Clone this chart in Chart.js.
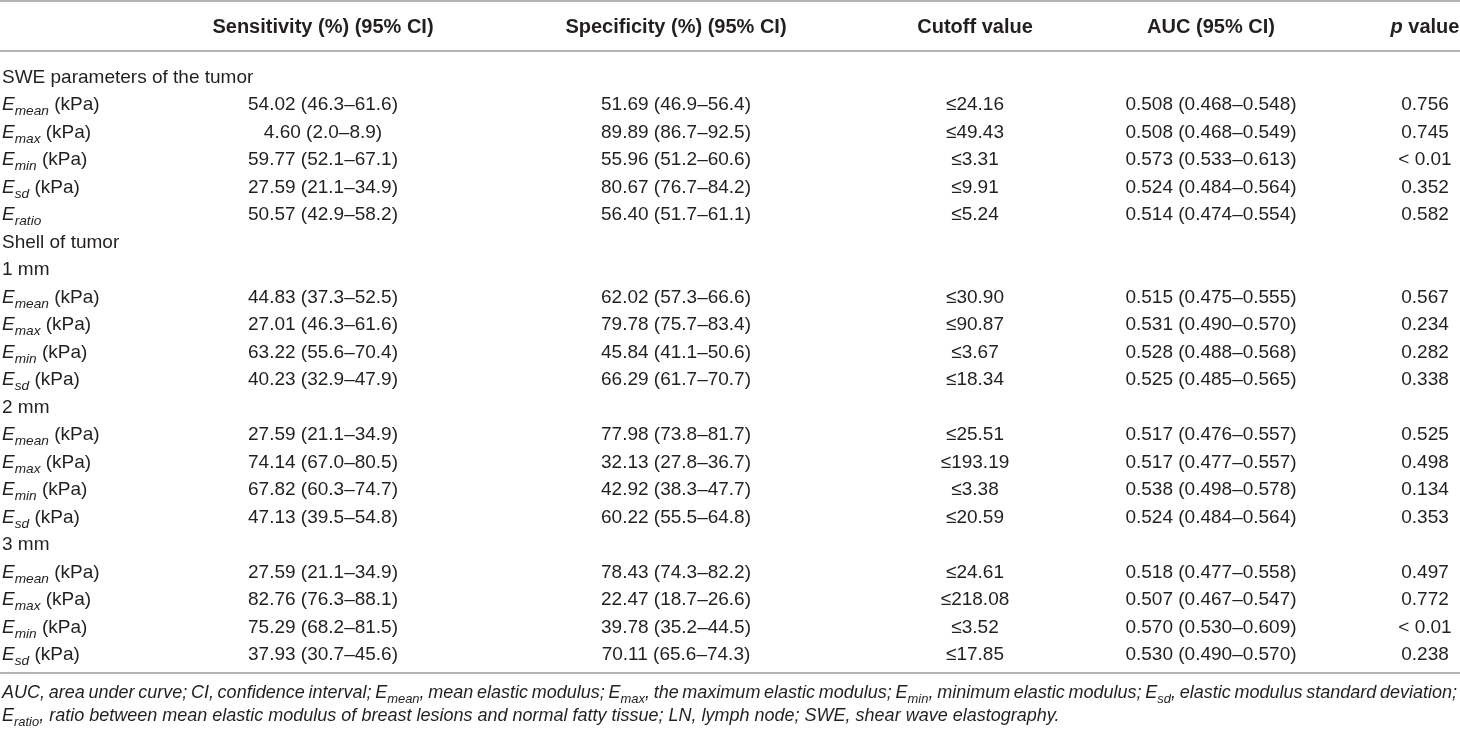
<!DOCTYPE html>
<html>
<head>
<meta charset="utf-8">
<script src="https://cdn.jsdelivr.net/npm/chart.js@4/dist/chart.umd.min.js"></script>
<style>
  html, body { margin: 0; padding: 0; background: #ffffff; }
  #wrap { width: 1460px; height: 733px; position: relative; }
</style>
</head>
<body>
<div id="wrap"><canvas id="c"></canvas></div>
<script>
// ---------- DATA ----------
const rowLabels = [
  'SWE parameters of the tumor',
  'E_{mean} (kPa)', 'E_{max} (kPa)', 'E_{min} (kPa)', 'E_{sd} (kPa)', 'E_{ratio}',
  'Shell of tumor',
  '1 mm',
  'E_{mean} (kPa)', 'E_{max} (kPa)', 'E_{min} (kPa)', 'E_{sd} (kPa)',
  '2 mm',
  'E_{mean} (kPa)', 'E_{max} (kPa)', 'E_{min} (kPa)', 'E_{sd} (kPa)',
  '3 mm',
  'E_{mean} (kPa)', 'E_{max} (kPa)', 'E_{min} (kPa)', 'E_{sd} (kPa)'
];
const columnHeaders = ['', 'Sensitivity (%) (95% CI)', 'Specificity (%) (95% CI)', 'Cutoff value', 'AUC (95% CI)', '*p* value'];
const sensitivity = ['', '54.02 (46.3–61.6)', '4.60 (2.0–8.9)', '59.77 (52.1–67.1)', '27.59 (21.1–34.9)', '50.57 (42.9–58.2)', '', '',
  '44.83 (37.3–52.5)', '27.01 (46.3–61.6)', '63.22 (55.6–70.4)', '40.23 (32.9–47.9)', '',
  '27.59 (21.1–34.9)', '74.14 (67.0–80.5)', '67.82 (60.3–74.7)', '47.13 (39.5–54.8)', '',
  '27.59 (21.1–34.9)', '82.76 (76.3–88.1)', '75.29 (68.2–81.5)', '37.93 (30.7–45.6)'];
const specificity = ['', '51.69 (46.9–56.4)', '89.89 (86.7–92.5)', '55.96 (51.2–60.6)', '80.67 (76.7–84.2)', '56.40 (51.7–61.1)', '', '',
  '62.02 (57.3–66.6)', '79.78 (75.7–83.4)', '45.84 (41.1–50.6)', '66.29 (61.7–70.7)', '',
  '77.98 (73.8–81.7)', '32.13 (27.8–36.7)', '42.92 (38.3–47.7)', '60.22 (55.5–64.8)', '',
  '78.43 (74.3–82.2)', '22.47 (18.7–26.6)', '39.78 (35.2–44.5)', '70.11 (65.6–74.3)'];
const cutoffValue = ['', '≤24.16', '≤49.43', '≤3.31', '≤9.91', '≤5.24', '', '',
  '≤30.90', '≤90.87', '≤3.67', '≤18.34', '',
  '≤25.51', '≤193.19', '≤3.38', '≤20.59', '',
  '≤24.61', '≤218.08', '≤3.52', '≤17.85'];
const aucValue = ['', '0.508 (0.468–0.548)', '0.508 (0.468–0.549)', '0.573 (0.533–0.613)', '0.524 (0.484–0.564)', '0.514 (0.474–0.554)', '', '',
  '0.515 (0.475–0.555)', '0.531 (0.490–0.570)', '0.528 (0.488–0.568)', '0.525 (0.485–0.565)', '',
  '0.517 (0.476–0.557)', '0.517 (0.477–0.557)', '0.538 (0.498–0.578)', '0.524 (0.484–0.564)', '',
  '0.518 (0.477–0.558)', '0.507 (0.467–0.547)', '0.570 (0.530–0.609)', '0.530 (0.490–0.570)'];
const pValue = ['', '0.756', '0.745', '< 0.01', '0.352', '0.582', '', '',
  '0.567', '0.234', '0.282', '0.338', '',
  '0.525', '0.498', '0.134', '0.353', '',
  '0.497', '0.772', '< 0.01', '0.238'];
const footnoteLines = [
  'AUC, area under curve; CI, confidence interval; E_{mean}, mean elastic modulus; E_{max}, the maximum elastic modulus; E_{min}, minimum elastic modulus; E_{sd}, elastic modulus standard deviation;',
  'E_{ratio}, ratio between mean elastic modulus of breast lesions and normal fatty tissue; LN, lymph node; SWE, shear wave elastography.'
];

// ---------- LAYOUT / STYLE ----------
const FONT = '"Liberation Sans", Arial, Helvetica, sans-serif';
const TEXT_COLOR = '#231f20';
const RULE_COLOR = '#9d9d9d';
const BODY_SIZE = 19;
const HEAD_SIZE = 20;
const FOOT_SIZE = 18;
const columnX = [2, 323, 676, 975, 1211, 1425];   // label column left edge, then column centres
const columnAlign = ['left', 'center', 'center', 'center', 'center', 'center'];
const columnTexts = [rowLabels, sensitivity, specificity, cutoffValue, aucValue, pValue];

// ---------- rich text helpers ----------
function parseRich(str) {
  const segs = [];
  const re = /\*([^*]+)\*|([A-Za-z])_\{([^}]*)\}/g;
  let last = 0, m;
  while ((m = re.exec(str)) !== null) {
    if (m.index > last) segs.push({ t: str.slice(last, m.index), it: false, sub: false });
    if (m[1] !== undefined) segs.push({ t: m[1], it: true, sub: false });
    else { segs.push({ t: m[2], it: true, sub: false }); segs.push({ t: m[3], it: true, sub: true }); }
    last = re.lastIndex;
  }
  if (last < str.length) segs.push({ t: str.slice(last), it: false, sub: false });
  return segs;
}
function segFont(seg, size, weight, allItalic) {
  const s = seg.sub ? size * 0.72 : size;
  return ((seg.it || allItalic) ? 'italic ' : '') + weight + ' ' + s + 'px ' + FONT;
}
function measureRich(ctx, segs, size, weight, allItalic) {
  let w = 0;
  segs.forEach(seg => { ctx.font = segFont(seg, size, weight, allItalic); w += ctx.measureText(seg.t).width; });
  return w;
}
function drawRich(ctx, segs, x, capCenterY, size, weight, allItalic) {
  const base = capCenterY + size * 0.358;
  let cx = x;
  segs.forEach(seg => {
    ctx.font = segFont(seg, size, weight, allItalic);
    ctx.fillText(seg.t, cx, seg.sub ? base + size * 0.27 : base);
    cx += ctx.measureText(seg.t).width;
  });
  return cx;
}
function drawAligned(ctx, str, x, y, align, size, weight, allItalic) {
  const segs = parseRich(str);
  let left = x;
  if (align === 'center') left = x - measureRich(ctx, segs, size, weight, allItalic) / 2;
  drawRich(ctx, segs, left, y, size, weight, allItalic);
}

// ---------- table plugin ----------
const tablePlugin = {
  id: 'tablePlugin',
  afterDatasetsDraw(chart) {
    const ctx = chart.ctx;
    const area = chart.chartArea;
    const xs = chart.scales.x;
    ctx.save();
    ctx.fillStyle = TEXT_COLOR;
    ctx.textAlign = 'left';
    ctx.textBaseline = 'alphabetic';

    // rules
    ctx.strokeStyle = RULE_COLOR;
    ctx.lineWidth = 1.6;
    const x0 = xs.getPixelForValue(0), x1 = xs.getPixelForValue(1460);
    [area.top - 61, area.top - 11, area.bottom + 6].forEach(yy => {
      ctx.beginPath(); ctx.moveTo(x0, yy); ctx.lineTo(x1, yy); ctx.stroke();
    });

    // header
    const headY = area.top - 36;
    columnHeaders.forEach((h, c) => {
      if (!h) return;
      drawAligned(ctx, h, xs.getPixelForValue(columnX[c]), headY, columnAlign[c], HEAD_SIZE, 'bold', false);
    });

    // body cells: one text per dataset element, at the element's scale position
    chart.data.datasets.forEach((ds, di) => {
      const meta = chart.getDatasetMeta(di);
      meta.data.forEach((el, i) => {
        const txt = ds.texts[i];
        if (!txt) return;
        drawAligned(ctx, txt, el.x, el.y, ds.align, BODY_SIZE, 'normal', false);
      });
    });

    // footnote (first line justified, second line ragged)
    const leftX = xs.getPixelForValue(2), rightX = xs.getPixelForValue(1457);
    const fy = [area.bottom + 25, area.bottom + 48];
    footnoteLines.forEach((line, li) => {
      const words = line.split(' ').map(w => parseRich(w));
      ctx.font = 'italic normal ' + FOOT_SIZE + 'px ' + FONT;
      const spaceW = ctx.measureText(' ').width;
      const widths = words.map(w => measureRich(ctx, w, FOOT_SIZE, 'normal', true));
      const total = widths.reduce((a, b) => a + b, 0);
      const gap = li === 0 ? (rightX - leftX - total) / (words.length - 1) : spaceW;
      let cx = leftX;
      words.forEach((w, wi) => {
        drawRich(ctx, w, cx, fy[li], FOOT_SIZE, 'normal', true);
        cx += widths[wi] + gap;
      });
    });
    ctx.restore();
  }
};

const datasets = columnTexts.map((texts, c) => ({
  label: columnHeaders[c] || 'label',
  data: texts.map((t, i) => ({ x: columnX[c], y: rowLabels[i] })),
  texts: texts,
  align: columnAlign[c],
  pointRadius: 0,
  pointHoverRadius: 0,
  showLine: false
}));

new Chart(document.getElementById('c'), {
  type: 'scatter',
  data: { labels: rowLabels, datasets: datasets },
  options: {
    responsive: true,
    maintainAspectRatio: false,
    animation: false,
    events: [],
    layout: { padding: { top: 62, bottom: 66, left: 0, right: 0 } },
    plugins: { legend: { display: false }, tooltip: { enabled: false } },
    scales: {
      x: { type: 'linear', min: 0, max: 1460, display: false },
      y: { type: 'category', labels: rowLabels, offset: true, display: false }
    }
  },
  plugins: [tablePlugin]
});
</script>
</body>
</html>
